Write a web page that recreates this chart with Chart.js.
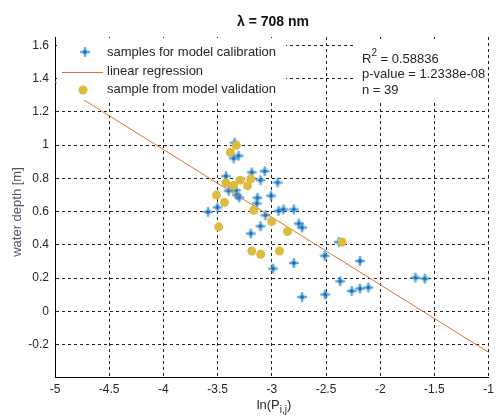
<!DOCTYPE html>
<html><head><meta charset="utf-8">
<script src="https://cdn.jsdelivr.net/npm/chart.js@4/dist/chart.umd.min.js"></script>
<style>html,body{margin:0;padding:0;background:#fff}canvas{display:block}</style>
</head><body>
<canvas id="c" width="499" height="419"></canvas>
<script>
// calibration samples (blue stars)
const calibX = [-3.343,-3.307,-3.352,-3.185,-3.066,-3.423,-3.105,-2.947,-3.398,-3.331,-3.322,-3.300,-3.133,-3.007,-3.139,-3.502,-3.588,-3.059,-2.938,-2.892,-2.797,-2.751,-2.721,-3.105,-3.194,-2.382,-2.513,-2.797,-2.989,-2.187,-2.370,-2.263,-2.187,-2.110,-2.508,-2.721,-1.675,-1.589];
const calibY = [1.014,0.936,0.920,0.836,0.843,0.813,0.789,0.775,0.725,0.729,0.699,0.685,0.683,0.695,0.649,0.625,0.598,0.578,0.604,0.613,0.613,0.528,0.504,0.512,0.468,0.417,0.334,0.291,0.257,0.303,0.181,0.122,0.137,0.143,0.101,0.086,0.203,0.197];
// validation samples (yellow circles)
const validX = [-3.328,-3.383,-3.291,-3.194,-3.423,-3.352,-3.224,-3.511,-3.437,-3.167,-3.002,-2.855,-3.490,-3.185,-3.103,-2.929,-2.352];
const validY = [0.998,0.956,0.789,0.797,0.773,0.757,0.755,0.699,0.655,0.608,0.540,0.480,0.508,0.363,0.343,0.363,0.417];
// regression line end points
const regX = [-5, -1];
const regY = [1.38, -0.247];
const xTicks = [-5,-4.5,-4,-3.5,-3,-2.5,-2,-1.5,-1];
const yTicks = [-0.2,0,0.2,0.4,0.6,0.8,1,1.2,1.4,1.6];
const titleText = 'λ = 708 nm';
const xLabelMain = 'ln(P';
const xLabelSub = 'i,j';
const yLabelText = 'water depth [m]';
const legendLabels = ['samples for model calibration','linear regression','sample from model validation'];
const statR2 = '0.58836';
const statP = '1.2338e-08';
const statN = '39';

const FONT = '"Liberation Sans", Arial, sans-serif';
const BLUE = '#1f7ec4';
const YELLOW = '#dcbb3e';
const ORANGE = '#e07232';

function pts(xs, ys){ return xs.map((x,i)=>({x:x, y:ys[i]})); }

function paintStar(ctx, x, y){
  ctx.save();
  ctx.lineCap = 'butt';
  // soft halo
  ctx.strokeStyle = 'rgba(90,165,225,0.55)'; ctx.lineWidth = 3;
  ctx.beginPath();
  ctx.moveTo(x-4.5,y); ctx.lineTo(x+4.5,y);
  ctx.moveTo(x,y-4.5); ctx.lineTo(x,y+4.5);
  ctx.stroke();
  // short diagonals
  ctx.strokeStyle = 'rgba(90,165,225,0.6)'; ctx.lineWidth = 1;
  ctx.beginPath();
  ctx.moveTo(x-2.5,y-2.5); ctx.lineTo(x+2.5,y+2.5);
  ctx.moveTo(x-2.5,y+2.5); ctx.lineTo(x+2.5,y-2.5);
  ctx.stroke();
  // core
  ctx.strokeStyle = BLUE; ctx.lineWidth = 1;
  ctx.beginPath();
  ctx.moveTo(x-5,y); ctx.lineTo(x+5,y);
  ctx.moveTo(x,y-5); ctx.lineTo(x,y+5);
  ctx.stroke();
  ctx.fillStyle = '#0f6aae';
  ctx.fillRect(x-1.5,y-1.5,3,3);
  ctx.restore();
}

const starImg = document.createElement('canvas');
starImg.width = 12; starImg.height = 12;
paintStar(starImg.getContext('2d'), 6, 6);

const overlay = {
  id: 'overlay',
  afterDatasetsDraw(chart){
    const ctx = chart.ctx;
    ctx.save();
    ctx.fillStyle = '#fff';
    ctx.fillRect(57, 38, 229, 62);
    ctx.fillRect(353, 39, 135, 61);
    paintStar(ctx, 85, 52);
    ctx.strokeStyle = ORANGE; ctx.lineWidth = 1;
    ctx.beginPath(); ctx.moveTo(62, 72.5); ctx.lineTo(103, 72.5); ctx.stroke();
    ctx.fillStyle = YELLOW;
    ctx.beginPath(); ctx.arc(83, 90, 4.5, 0, Math.PI*2); ctx.fill();
    ctx.fillStyle = '#262626';
    ctx.font = '13px ' + FONT;
    ctx.textBaseline = 'middle'; ctx.textAlign = 'left';
    ctx.fillText(legendLabels[0], 107, 52);
    ctx.fillText(legendLabels[1], 107, 71);
    ctx.fillText(legendLabels[2], 107, 89);
    let x = 362;
    ctx.fillText('R', x, 59);
    x += ctx.measureText('R').width;
    ctx.font = '10px ' + FONT;
    ctx.fillText('2', x, 53);
    x += ctx.measureText('2').width;
    ctx.font = '13px ' + FONT;
    ctx.fillText(' = ' + statR2, x, 59);
    ctx.fillText('p-value = ' + statP, 362, 74);
    ctx.fillText('n = ' + statN, 362, 90);
    ctx.restore();
  },
  afterDraw(chart){
    const ctx = chart.ctx;
    ctx.save();
    ctx.fillStyle = '#111';
    ctx.font = 'bold 14px ' + FONT;
    ctx.textAlign = 'center'; ctx.textBaseline = 'middle';
    ctx.fillText(titleText, 273, 22);
    ctx.font = '13px ' + FONT;
    ctx.fillStyle = '#262626';
    const w1 = ctx.measureText(xLabelMain).width;
    ctx.font = '10px ' + FONT;
    const w2 = ctx.measureText(xLabelSub).width;
    ctx.font = '13px ' + FONT;
    const w3 = ctx.measureText(')').width;
    let sx = 274 - (w1+w2+w3)/2;
    ctx.textAlign = 'left';
    ctx.fillText(xLabelMain, sx, 405);
    ctx.font = '10px ' + FONT;
    ctx.fillText(xLabelSub, sx + w1, 410);
    ctx.font = '13px ' + FONT;
    ctx.fillText(')', sx + w1 + w2, 405);
    ctx.fillStyle = '#55556a';
    ctx.translate(17, 212);
    ctx.rotate(-Math.PI/2);
    ctx.textAlign = 'center';
    ctx.fillText(yLabelText, 0, 0);
    ctx.restore();
  }
};

new Chart(document.getElementById('c'), {
  type: 'scatter',
  data: {
    datasets: [
      { label: legendLabels[0], data: pts(calibX, calibY), pointStyle: starImg, radius: 6, borderColor: BLUE, backgroundColor: BLUE, borderWidth: 0, order: 2 },
      { label: legendLabels[1], data: pts(regX, regY), type: 'line', showLine: true, pointRadius: 0, borderColor: ORANGE, borderWidth: 1, fill: false, order: 1 },
      { label: legendLabels[2], data: pts(validX, validY), pointStyle: 'circle', radius: 4.5, borderColor: YELLOW, backgroundColor: YELLOW, borderWidth: 0, order: 0 }
    ]
  },
  options: {
    responsive: false,
    animation: false,
    layout: { padding: { top: 37, right: 7, left: 0, bottom: 0 } },
    plugins: { legend: { display: false }, title: { display: false }, tooltip: { enabled: false } },
    scales: {
      x: {
        type: 'linear', min: -5, max: -1,
        afterBuildTicks: s => { s.ticks = xTicks.map(v => ({value: v})); },
        afterFit: s => { s.height = 42; },
        ticks: { callback: v => String(v), color: '#262626', font: { family: FONT, size: 12 }, padding: 5, maxRotation: 0, autoSkip: false },
        grid: { color: '#222', lineWidth: 1, drawTicks: false },
        border: { display: true, color: '#000', width: 1, dash: [3, 3] }
      },
      y: {
        type: 'linear', min: -0.395, max: 1.65,
        afterBuildTicks: s => { s.ticks = yTicks.map(v => ({value: v})); },
        afterFit: s => { s.width = 55; },
        ticks: { callback: v => String(v), color: '#262626', font: { family: FONT, size: 12 }, padding: 6, autoSkip: false },
        grid: { color: '#222', lineWidth: 1, drawTicks: false },
        border: { display: true, color: '#000', width: 1, dash: [3, 3] }
      }
    }
  },
  plugins: [overlay]
});
</script>
</body></html>
